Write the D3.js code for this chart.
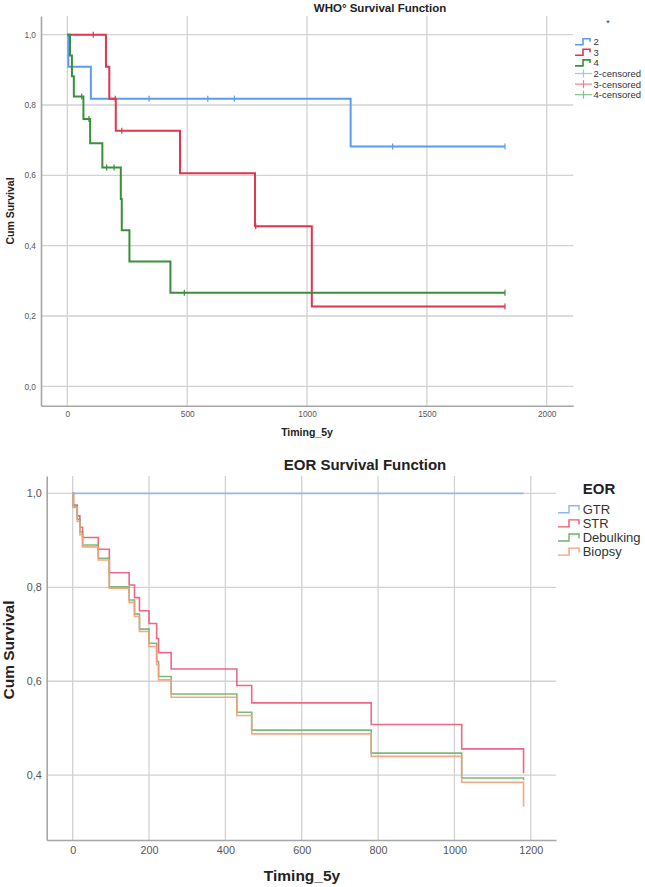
<!DOCTYPE html>
<html><head><meta charset="utf-8">
<script src="https://cdn.jsdelivr.net/npm/d3@7"></script>
<style>
body{margin:0;background:#fff;}
svg{display:block;font-family:"Liberation Sans",Arial,sans-serif;}
</style></head>
<body>
<svg id="chart" width="645" height="887"></svg>
<script>
// ---------- Panel 1: WHO° ----------
const whoXTicks = [0, 500, 1000, 1500, 2000];
const whoYTicks = [0, 0.2, 0.4, 0.6, 0.8, 1.0];
const whoLegendLabels = ["2", "3", "4", "2-censored", "3-censored", "4-censored"];

const who2Times = [0, 4, 98, 1182, 1826];
const who2Surv  = [1, 0.909, 0.818, 0.682, 0.682];
const who2Cens  = [341, 586, 697, 1357, 1826];

const who3Times = [0, 161, 175, 202, 470, 783, 1020, 1826];
const who3Surv  = [1, 0.909, 0.818, 0.727, 0.606, 0.455, 0.227, 0.227];
const who3Cens  = [108, 200, 227, 786, 1826];

const who4Times = [0, 11, 19, 27, 67, 95, 146, 223, 227, 259, 430, 1826];
const who4Surv  = [1, 0.941, 0.882, 0.824, 0.760, 0.691, 0.622, 0.533, 0.444, 0.355, 0.266, 0.266];
const who4Cens  = [60, 90, 164, 195, 488, 1826];

// ---------- Panel 2: EOR ----------
const eorXTicks = [0, 200, 400, 600, 800, 1000, 1200];
const eorYTicks = [0.4, 0.6, 0.8, 1.0];
const eorLabels = ["GTR", "STR", "Debulking", "Biopsy"];

const gtrTimes = [0, 1181];
const gtrSurv  = [1, 1];
const eorTimes = [0, 2, 12, 19, 26, 67, 96, 148, 162, 175, 200, 220, 225, 258, 430, 469, 782, 1019, 1181];
const strSurv  = [1, 0.975, 0.952, 0.928, 0.906, 0.881, 0.831, 0.805, 0.778, 0.750, 0.723, 0.691, 0.661, 0.626, 0.591, 0.554, 0.508, 0.456, 0.404];
const debSurv  = [1, 0.971, 0.945, 0.918, 0.890, 0.862, 0.801, 0.773, 0.743, 0.711, 0.681, 0.642, 0.610, 0.573, 0.534, 0.496, 0.447, 0.394, 0.389];
const bioSurv  = [1, 0.970, 0.940, 0.912, 0.886, 0.858, 0.798, 0.768, 0.738, 0.706, 0.674, 0.635, 0.603, 0.566, 0.527, 0.488, 0.440, 0.385, 0.333];

const svg = d3.select("#chart");
const fmt = d => d3.format(".1f")(d).replace(".", ",");
const GRID = "#d2d2d2", AXIS = "#a6a6a6";

function zip(t, s){ return t.map((v,i)=>[v, s[i]]); }
function stepVal(t, s, x){ let v = s[0]; for(let i=0;i<t.length;i++){ if(t[i] <= x) v = s[i]; } return v; }

// ===== Panel 1 =====
{
  const x = d3.scaleLinear().domain([-110, 2111]).range([41, 573.3]);
  const y = d3.scaleLinear().domain([-0.055, 1.053]).range([405.7, 16]);
  const g = svg.append("g");
  g.selectAll(".vg").data(whoXTicks).join("line")
    .attr("x1", d=>x(d)).attr("x2", d=>x(d)).attr("y1", y.range()[1]).attr("y2", y.range()[0])
    .attr("stroke", GRID).attr("stroke-width", 1.3);
  g.selectAll(".hg").data(whoYTicks).join("line")
    .attr("x1", x.range()[0]).attr("x2", x.range()[1]).attr("y1", d=>y(d)).attr("y2", d=>y(d))
    .attr("stroke", GRID).attr("stroke-width", 1.3);

  const xa = g.append("g").attr("transform", `translate(0,${y.range()[0]})`)
    .call(d3.axisBottom(x).tickValues(whoXTicks).tickSize(0).tickPadding(5).tickFormat(d3.format("d")));
  const ya = g.append("g").attr("transform", `translate(${x.range()[0]},0)`)
    .call(d3.axisLeft(y).tickValues(whoYTicks).tickSize(0).tickPadding(5).tickFormat(fmt));
  [xa, ya].forEach(a => {
    a.select(".domain").attr("stroke", AXIS).attr("stroke-width", 1.6);
    a.selectAll("text").attr("fill", "#555").attr("font-size", 8.3).attr("font-family", "Liberation Sans, Arial, sans-serif");
  });

  const line = d3.line().x(d=>x(d[0])).y(d=>y(d[1])).curve(d3.curveStepAfter);
  const series = [
    {t: who2Times, s: who2Surv, c: who2Cens, col: "#5b9cf0", lc: "#9cc4f6"},
    {t: who3Times, s: who3Surv, c: who3Cens, col: "#e2344f", lc: "#f0818f"},
    {t: who4Times, s: who4Surv, c: who4Cens, col: "#3a8f3a", lc: "#85c485"}
  ];
  series.forEach(se => {
    g.append("path").attr("d", line(zip(se.t, se.s))).attr("fill", "none")
      .attr("stroke", se.col).attr("stroke-width", 2);
    g.selectAll(null).data(se.c).join("line")
      .attr("x1", d=>x(d)).attr("x2", d=>x(d))
      .attr("y1", d=>y(stepVal(se.t, se.s, d))-3).attr("y2", d=>y(stepVal(se.t, se.s, d))+3)
      .attr("stroke", se.col).attr("stroke-width", 1.2);
  });

  g.append("text").attr("x", 380).attr("y", 12).attr("text-anchor", "middle")
    .attr("font-weight", "bold").attr("font-size", 11.5).attr("fill", "#222").text("WHO° Survival Function");
  g.append("text").attr("x", 307).attr("y", 436).attr("text-anchor", "middle")
    .attr("font-weight", "bold").attr("font-size", 10.5).attr("fill", "#222").text("Timing_5y");
  g.append("text").attr("transform", "translate(14,211) rotate(-90)").attr("text-anchor", "middle")
    .attr("font-weight", "bold").attr("font-size", 10.5).attr("fill", "#222").text("Cum Survival");

  // legend
  g.append("text").attr("x", 608).attr("y", 26).attr("text-anchor", "middle").attr("font-size", 9).attr("fill", "#333").text("*");
  const ly0 = 41.7, ldy = 10.6;
  whoLegendLabels.forEach((lab, i) => {
    const yy = ly0 + i*ldy;
    const se = series[i % 3];
    if (i < 3) {
      g.append("path").attr("d", `M575,${yy+3} H583 V${yy-3} H590 V${yy}`)
        .attr("fill", "none").attr("stroke", se.col).attr("stroke-width", 1.6);
    } else {
      g.append("line").attr("x1", 575).attr("x2", 592).attr("y1", yy).attr("y2", yy).attr("stroke", se.lc).attr("stroke-width", 1.2);
      g.append("line").attr("x1", 583.5).attr("x2", 583.5).attr("y1", yy-4).attr("y2", yy+4).attr("stroke", se.lc).attr("stroke-width", 1.2);
    }
    g.append("text").attr("x", 593.5).attr("y", yy+3.4).attr("font-size", 9.5).attr("fill", "#333").text(lab);
  });
}

// ===== Panel 2 =====
{
  const x = d3.scaleLinear().domain([-68, 1266]).range([46.7, 556]);
  const y = d3.scaleLinear().domain([0.262, 1.037]).range([840, 476]);
  const g = svg.append("g");
  g.selectAll(".vg").data(eorXTicks).join("line")
    .attr("x1", d=>x(d)).attr("x2", d=>x(d)).attr("y1", y.range()[1]).attr("y2", y.range()[0])
    .attr("stroke", GRID).attr("stroke-width", 1.3);
  g.selectAll(".hg").data(eorYTicks).join("line")
    .attr("x1", x.range()[0]).attr("x2", x.range()[1]).attr("y1", d=>y(d)).attr("y2", d=>y(d))
    .attr("stroke", GRID).attr("stroke-width", 1.3);

  const xa = g.append("g").attr("transform", `translate(0,${y.range()[0]})`)
    .call(d3.axisBottom(x).tickValues(eorXTicks).tickSize(0).tickPadding(6).tickFormat(d3.format("d")));
  const ya = g.append("g").attr("transform", `translate(${x.range()[0]},0)`)
    .call(d3.axisLeft(y).tickValues(eorYTicks).tickSize(0).tickPadding(5).tickFormat(fmt));
  [xa, ya].forEach(a => {
    a.select(".domain").attr("stroke", AXIS).attr("stroke-width", 1.6);
    a.selectAll("text").attr("fill", "#555").attr("font-size", 10.8).attr("font-family", "Liberation Sans, Arial, sans-serif");
  });

  const line = d3.line().x(d=>x(d[0])).y(d=>y(d[1])).curve(d3.curveStepAfter);
  const series = [
    {t: gtrTimes, s: gtrSurv, col: "#8db6f3"},
    {t: eorTimes, s: strSurv, col: "#ec5777"},
    {t: eorTimes, s: debSurv, col: "#6cb36c"},
    {t: eorTimes, s: bioSurv, col: "#f79d78"}
  ];
  series.forEach(se => {
    g.append("path").attr("d", line(zip(se.t, se.s))).attr("fill", "none")
      .attr("stroke", se.col).attr("stroke-width", 1.6).attr("stroke-opacity", 0.9);
  });

  g.append("text").attr("x", 365).attr("y", 470).attr("text-anchor", "middle")
    .attr("font-weight", "bold").attr("font-size", 15).attr("fill", "#222").text("EOR Survival Function");
  g.append("text").attr("x", 302).attr("y", 881).attr("text-anchor", "middle")
    .attr("font-weight", "bold").attr("font-size", 15.5).attr("fill", "#222").text("Timing_5y");
  g.append("text").attr("transform", "translate(14,650) rotate(-90)").attr("text-anchor", "middle")
    .attr("font-weight", "bold").attr("font-size", 15.5).attr("fill", "#222").text("Cum Survival");

  g.append("text").attr("x", 599).attr("y", 494).attr("text-anchor", "middle")
    .attr("font-weight", "bold").attr("font-size", 15).attr("fill", "#222").text("EOR");
  eorLabels.forEach((lab, i) => {
    const yy = 509.3 + i*14.1;
    g.append("path").attr("d", `M558,${yy+3.5} H569 V${yy-3.5} H579 V${yy+1}`)
      .attr("fill", "none").attr("stroke", series[i].col).attr("stroke-width", 1.4);
    g.append("text").attr("x", 582.7).attr("y", yy+4.5).attr("font-size", 13).attr("fill", "#333").text(lab);
  });
}
</script>
</body></html>
